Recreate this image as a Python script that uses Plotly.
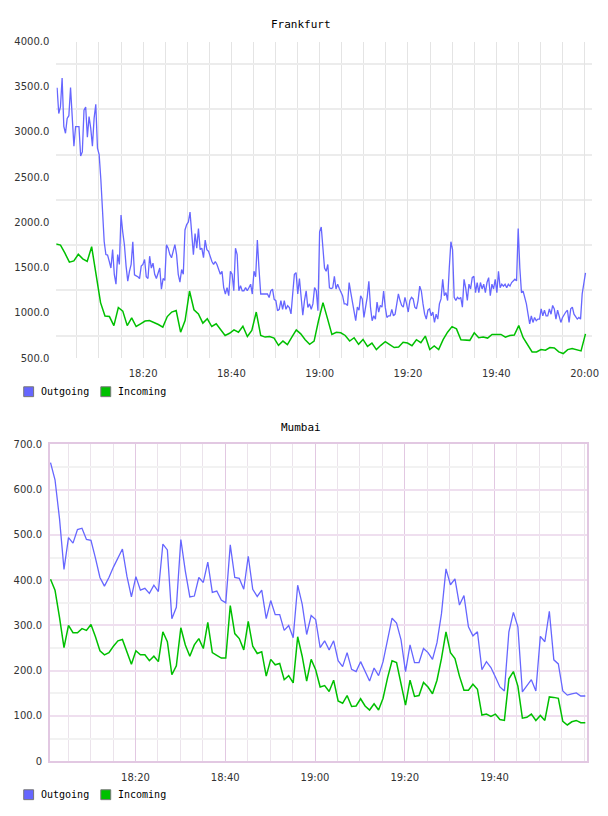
import pandas as pd
import plotly.graph_objects as go

W, H = 608, 816
DAY = "2000-01-01 "

# ---------------- data ----------------
fra_out_a = [3488, 3204, 3277, 3597, 3062, 2986, 3150, 3180, 3490, 3170, 2844, 3060, 3060, 3060, 2735, 2780,
             3240, 3277, 2942, 3170, 3040, 2844, 3150, 3306, 2822, 2750, 2477, 2114, 1787, 1645, 1640, 1569,
             1496, 1700, 1427, 1318, 1645, 1536, 2081, 1896, 1754, 1518, 1351, 1460, 1536, 1787, 1420, 1410,
             1400, 1380, 1518, 1536, 1590, 1400, 1380, 1627, 1496, 1550, 1427, 1380, 1427, 1496, 1263, 1380,
             1360, 1754, 1716, 1645, 1610, 1700, 1754, 1645, 1427, 1340, 1480, 1427, 1917, 1976, 2005, 2114,
             1823, 1645, 1878, 1716, 1932, 1700, 1716, 1610, 1805, 1700, 1680, 1610, 1569, 1536, 1569, 1536,
             1480, 1427, 1460, 1280, 1209, 1280, 1190, 1460, 1427, 1245, 1716, 1645, 1245, 1300, 1245, 1245,
             1280, 1245, 1280, 1318, 1209, 1460, 1400, 1805, 1480, 1209, 1209, 1209, 1209, 1209, 1170, 1245,
             1263, 1150, 1136, 1024, 1040, 1136, 1040, 1136, 1040, 1080, 1060, 990, 1209, 1427, 1445, 1209,
             1380, 1136, 975, 1136, 1245, 1060, 1100, 1040, 1100, 1280, 1245, 1024, 1896]
fra_out_b = [1950, 1754, 1496, 1460, 1536, 1278, 1270, 1278, 1405, 1265, 1318, 1270, 1224, 1190, 1100, 1100,
             1083, 1336, 1224, 1120, 1064, 914, 1064, 1030, 1190, 1155, 950, 1064, 1172, 1350, 1064, 914,
             968, 932, 1120, 1010, 1083, 1064, 1242, 1064, 950, 968, 968, 1040, 968, 986, 1120, 1210,
             1137, 1083, 1064, 1172, 1100, 1010, 1137, 1172, 1155, 1064, 1045, 1137, 1296, 1242, 1100, 986,
             932, 1030, 1045, 968, 1010, 895, 986, 932, 1100, 1155, 1372, 1190, 1224, 1137, 1496, 1787,
             1700, 1172, 1137, 1172, 1155, 1172, 1064, 1372, 1278, 1137, 1318, 1265, 1390, 1405, 1224, 1336,
             1224, 1336, 1265, 1318, 1224, 1336, 1390, 1190, 1318, 1265, 1372, 1224, 1460, 1278, 1318, 1296,
             1318, 1278, 1318, 1296, 1336, 1354, 1372, 1354, 1932, 1496, 1224, 1242, 1172, 1100, 986, 880,
             968, 895, 950, 914, 932, 932, 1045, 968, 1030, 968, 968, 1045, 986, 1083, 1045, 932,
             1030, 950, 895, 950, 986, 1010, 1030, 895, 1045, 1064, 986, 950, 932, 950, 932, 1210,
             1354, 1442]
fra_in = [1762, 1750, 1660, 1561, 1575, 1648, 1598, 1569, 1732, 1405, 1114, 965, 960, 860, 1060, 1020,
          860, 945, 850, 880, 910, 916, 898, 872, 843, 960, 1010, 1027, 787, 916, 1242, 1035,
          990, 887, 935, 850, 880, 813, 751, 775, 813, 787, 852, 740, 806, 1010, 751, 733,
          740, 722, 642, 689, 649, 733, 813, 769, 704, 653, 689, 916, 1114, 940, 762, 787,
          780, 751, 689, 726, 653, 707, 631, 667, 595, 642, 682, 649, 617, 624, 675, 667,
          638, 704, 671, 744, 595, 635, 595, 704, 787, 849, 824, 704, 704, 697, 780, 726,
          733, 722, 762, 762, 762, 733, 751, 755, 860, 726, 653, 569, 569, 595, 588, 617,
          613, 569, 551, 595, 606, 595, 580, 769]

mum_out = [660, 622, 536, 424, 494, 482, 512, 515, 490, 488, 449, 406, 387, 406, 429, 449, 469, 409, 363, 408,
           378, 382, 371, 389, 375, 480, 467, 315, 340, 490, 420, 363, 365, 406, 395, 440, 373, 376, 356, 350,
           478, 406, 404, 380, 453, 380, 364, 378, 315, 355, 324, 324, 289, 300, 273, 389, 347, 280, 322, 313,
           251, 266, 246, 266, 222, 209, 240, 203, 198, 220, 198, 177, 206, 189, 220, 268, 316, 305, 268, 198,
           257, 218, 218, 249, 240, 225, 262, 326, 425, 390, 403, 345, 366, 297, 277, 286, 202, 220, 207, 186,
           164, 155, 286, 329, 297, 153, 166, 180, 155, 276, 264, 331, 224, 215, 155, 146, 149, 151, 144, 144]
mum_in = [402, 378, 318, 251, 300, 284, 284, 293, 289, 302, 275, 244, 235, 240, 254, 266, 269, 240, 214, 244,
          235, 235, 222, 232, 220, 286, 264, 191, 211, 295, 257, 232, 257, 271, 249, 307, 240, 234, 228, 228,
          344, 282, 271, 246, 309, 254, 238, 242, 188, 225, 213, 216, 180, 189, 173, 275, 232, 177, 225, 202,
          164, 167, 154, 179, 133, 128, 145, 121, 122, 138, 122, 113, 127, 113, 139, 184, 222, 218, 170, 124,
          179, 143, 145, 174, 164, 149, 179, 227, 286, 240, 227, 188, 157, 157, 170, 159, 102, 104, 99, 104,
          92, 90, 182, 198, 166, 95, 97, 104, 90, 101, 90, 142, 141, 139, 88, 80, 87, 90, 85, 85]

fra_ytick_vals = [500, 1000, 1500, 2000, 2500, 3000, 3500, 4000]
fra_ytick_text = ["500.0", "1000.0", "1500.0", "2000.0", "2500.0", "3000.0", "3500.0", "4000.0"]
mum_ytick_vals = [0, 100, 200, 300, 400, 500, 600, 700]
mum_ytick_text = ["0", "100.0", "200.0", "300.0", "400.0", "500.0", "600.0", "700.0"]
fra_xtick_text = ["18:20", "18:40", "19:00", "19:20", "19:40", "20:00"]
mum_xtick_text = ["18:20", "18:40", "19:00", "19:20", "19:40"]
series_names = ["Outgoing", "Incoming"]

# ---------------- times ----------------
t_fra_out = list(pd.date_range(DAY + "18:00:31", DAY + "18:59:59", periods=len(fra_out_a))) + \
            list(pd.date_range(DAY + "19:00:21", DAY + "20:00:12", periods=len(fra_out_b)))
t_fra_in = pd.date_range(DAY + "18:00:17", DAY + "20:00:12", periods=len(fra_in))
t_mum = pd.date_range(DAY + "18:01:04", DAY + "20:00:13", periods=len(mum_out))

BLUE = "#6666ff"
GREEN = "#00c000"
FONT_TICK = dict(family="DejaVu Sans", size=10, color="#333333")


def px(x):
    return x / W


def py(y):
    return 1 - y / H


fig = go.Figure()
fig.add_trace(go.Scatter(x=t_fra_out, y=fra_out_a + fra_out_b, mode="lines", name=series_names[0],
                         line=dict(color=BLUE, width=1.3), xaxis="x", yaxis="y", showlegend=False))
fig.add_trace(go.Scatter(x=t_fra_in, y=fra_in, mode="lines", name=series_names[1],
                         line=dict(color=GREEN, width=1.5), xaxis="x", yaxis="y", showlegend=False))
fig.add_trace(go.Scatter(x=t_mum, y=mum_out, mode="lines", name=series_names[0],
                         line=dict(color=BLUE, width=1.3), xaxis="x2", yaxis="y2", showlegend=False))
fig.add_trace(go.Scatter(x=t_mum, y=mum_in, mode="lines", name=series_names[1],
                         line=dict(color=GREEN, width=1.5), xaxis="x2", yaxis="y2", showlegend=False))

fra_xticks = [DAY + t for t in fra_xtick_text]
mum_xticks = [DAY + t for t in mum_xtick_text]
FIVE_MIN = 5 * 60 * 1000

fig.update_layout(
    width=W, height=H, autosize=False,
    margin=dict(l=0, r=0, t=0, b=0),
    paper_bgcolor="white", plot_bgcolor="white",
    showlegend=False,
    xaxis=dict(domain=[px(57), px(599)], anchor="y",
               range=[DAY + "18:00:21", DAY + "20:01:42"],
               tickvals=fra_xticks, ticktext=fra_xtick_text, tickfont=FONT_TICK,
               ticks="outside", ticklen=6, tickcolor="rgba(0,0,0,0)",
               ticklabeloverflow="allow",
               showgrid=True, gridcolor="#e4e4e4", gridwidth=1,
               minor=dict(tick0=DAY + "18:00:00", dtick=FIVE_MIN, showgrid=True,
                          gridcolor="#e4e4e4", gridwidth=1),
               showline=False, zeroline=False),
    yaxis=dict(domain=[py(358), py(37)], anchor="x",
               range=[500, 4000],
               tickvals=fra_ytick_vals, ticktext=fra_ytick_text, tickfont=FONT_TICK,
               ticks="outside", ticklen=4, tickcolor="rgba(0,0,0,0)",
               showgrid=False,
               minor=dict(tickvals=[750, 1250, 1750, 2250, 2750, 3250, 3750], showgrid=True,
                          gridcolor="#ececec", gridwidth=1.5),
               showline=False, zeroline=False),
    xaxis2=dict(domain=[px(50.5), px(594.3)], anchor="y2",
                range=[DAY + "18:00:56", DAY + "20:00:42"],
                tickvals=mum_xticks, ticktext=mum_xtick_text, tickfont=FONT_TICK,
                ticks="outside", ticklen=6, tickcolor="rgba(0,0,0,0)",
                showgrid=True, gridcolor="#e2c8e2", gridwidth=1,
                minor=dict(tick0=DAY + "18:00:00", dtick=FIVE_MIN, showgrid=True,
                           gridcolor="#ebe3eb", gridwidth=1),
                showline=True, mirror=True, linecolor="#e2c8e2", linewidth=1.5, zeroline=False),
    yaxis2=dict(domain=[py(766.5), py(445.5)], anchor="x2",
                range=[0, 700],
                tickvals=mum_ytick_vals, ticktext=mum_ytick_text, tickfont=FONT_TICK,
                ticks="outside", ticklen=4, tickcolor="rgba(0,0,0,0)",
                showgrid=True, gridcolor="#efdfef", gridwidth=1.5,
                minor=dict(dtick=50, showgrid=True, gridcolor="#f2f2f2", gridwidth=1.5),
                showline=True, mirror=True, linecolor="#e2c8e2", linewidth=1.5, zeroline=False),
)

# titles
for title, y in (("Frankfurt", 20), ("Mumbai", 428)):
    fig.add_annotation(text=title, x=px(304), y=py(y), xref="paper", yref="paper",
                       showarrow=False, xanchor="center", yanchor="middle",
                       font=dict(family="DejaVu Sans Mono", size=11, color="#000000"))

# legends
for ly in (392, 800.5):
    for (sx, name, col) in ((24, series_names[0], BLUE), (102, series_names[1], GREEN)):
        fig.add_shape(type="rect", xref="paper", yref="paper",
                      x0=px(sx), x1=px(sx + 10), y0=py(ly + 5), y1=py(ly - 5),
                      fillcolor=col, line=dict(color="#777777", width=1))
        fig.add_annotation(text=name, x=px(sx + 15), y=py(ly), xref="paper", yref="paper",
                           showarrow=False, xanchor="left", yanchor="middle",
                           font=dict(family="DejaVu Sans Mono", size=10, color="#000000"))

fig.write_html("out.html")
